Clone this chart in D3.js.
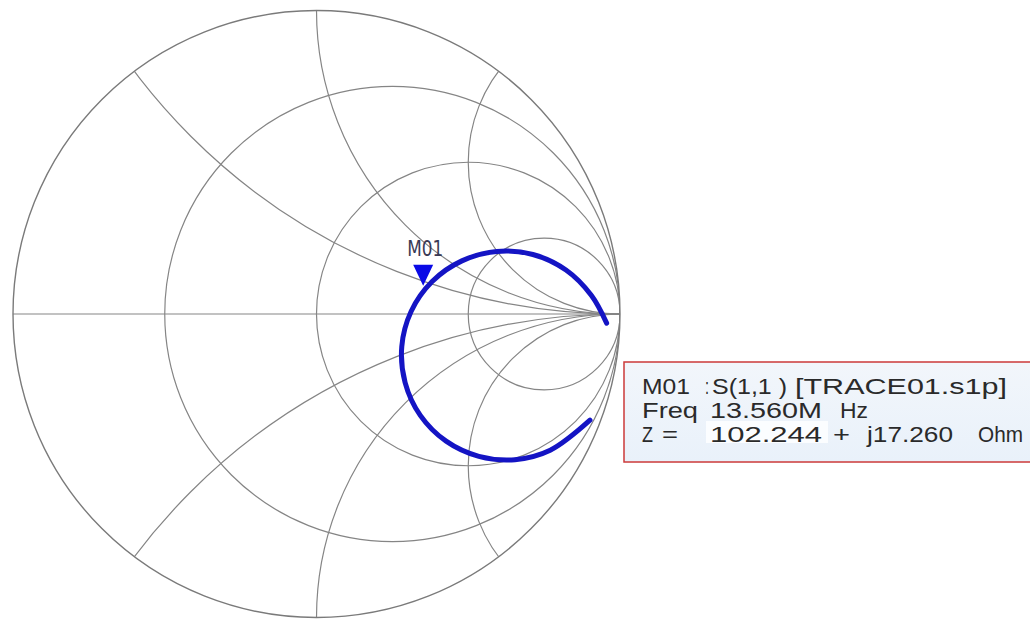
<!DOCTYPE html>
<html><head><meta charset="utf-8">
<script src="https://cdn.jsdelivr.net/npm/d3@7"></script>
<style>html,body{margin:0;padding:0;background:#fff;overflow:hidden}</style>
</head><body>
<svg id="chart" width="1030" height="628"></svg>
<script>
// ---- data ----
const resistanceCircles = [1/3, 1, 3];          // normalized r grid
const reactanceArcs = [0.5, 1, 2];              // normalized |x| grid (both signs)
// trace S(1,1) reflection coefficient
const traceRe = [0.956, 0.906, 0.822, 0.713, 0.594, 0.479, 0.381, 0.312, 0.281, 0.292, 0.342, 0.427, 0.535, 0.654, 0.770, 0.901];
const traceIm = [-0.030, 0.061, 0.145, 0.196, 0.206, 0.175, 0.107, 0.009, -0.107, -0.226, -0.334, -0.419, -0.469, -0.480, -0.449, -0.350];
const markerName = "M01";
const markerZ = [102.244, 17.260];  // ohms
const z0 = 50;
const infoLine1 = [["M01",642,48],[":",705,4],["S(1,1 )",712,75],["[TRACE01.s1p]",795,212]];
const infoLine2 = [["Freq",642,56],["13.560M",710,112],["Hz",840,28]];
const infoLine3 = [["Z",642,11],["=",662,16],["102.244",710,112],["+",833,17],["j17.260",867,86],["Ohm",978,45]];

// ---- layout ----
const cx = 316.5, cy = 314, R = 303.5;
const svg = d3.select("#chart");
const sx = d3.scaleLinear().domain([-1, 1]).range([cx - R, cx + R]);
const sy = d3.scaleLinear().domain([-1, 1]).range([cy + R, cy - R]);
const sr = d3.scaleLinear().domain([0, 1]).range([0, R]);

svg.append("defs").append("clipPath").attr("id", "uc")
  .append("circle").attr("cx", sx(0)).attr("cy", sy(0)).attr("r", sr(1));

const grid = svg.append("g").attr("fill", "none").attr("stroke", "#858585").attr("stroke-width", 1.2);
const clipped = grid.append("g").attr("clip-path", "url(#uc)");

// horizontal axis
grid.append("line").attr("x1", sx(-1)).attr("x2", sx(1)).attr("y1", sy(0)).attr("y2", sy(0));
// resistance circles
clipped.selectAll("circle.r").data(resistanceCircles).join("circle")
  .attr("cx", r => sx(r / (r + 1))).attr("cy", sy(0)).attr("r", r => sr(1 / (r + 1)));
// reactance arcs
const xs = reactanceArcs.flatMap(x => [x, -x]);
clipped.selectAll("circle.x").data(xs).join("circle")
  .attr("cx", sx(1)).attr("cy", x => sy(1 / x)).attr("r", x => sr(1 / Math.abs(x)));
// outer circle
grid.append("circle").attr("cx", sx(0)).attr("cy", sy(0)).attr("r", sr(1)).attr("stroke", "#7a7a7a").attr("stroke-width", 1.4);

// trace
const pts = traceRe.map((re, i) => [re, traceIm[i]]);
svg.append("path").datum(pts)
  .attr("d", d3.line().x(d => sx(d[0])).y(d => sy(d[1])).curve(d3.curveCatmullRom))
  .attr("fill", "none").attr("stroke", "#1414c4").attr("stroke-width", 5).attr("stroke-linecap", "round");

// marker
const zr = markerZ[0] / z0, zi = markerZ[1] / z0;
const den = (zr + 1) * (zr + 1) + zi * zi;
const gRe = ((zr - 1) * (zr + 1) + zi * zi) / den;
const gIm = (zi * (zr + 1) - (zr - 1) * zi) / den;
const mx = sx(gRe), my = sy(gIm) - 6;
svg.append("path").attr("d", `M${mx - 10},${my - 21}L${mx + 10},${my - 21}L${mx},${my}Z`).attr("fill", "#0a0ae6");
svg.append("text").attr("x", mx - 16).attr("y", my - 30).text(markerName)
  .attr("font-family", "DejaVu Sans Condensed, DejaVu Sans, sans-serif").attr("font-size", 22)
  .attr("fill", "#3a3a55").attr("textLength", 36).attr("lengthAdjust", "spacingAndGlyphs");

// info box
const defs = svg.select("defs");
const lg = defs.append("linearGradient").attr("id", "boxg").attr("x1", 0).attr("y1", 0).attr("x2", 0).attr("y2", 1);
lg.append("stop").attr("offset", 0).attr("stop-color", "#f2f6fb");
lg.append("stop").attr("offset", 1).attr("stop-color", "#e9f1fa");
svg.append("rect").attr("x", 624).attr("y", 362).attr("width", 420).attr("height", 100)
  .attr("fill", "url(#boxg)").attr("stroke", "#cc3a3a").attr("stroke-width", 1.5);
svg.append("rect").attr("x", 706).attr("y", 421).attr("width", 122).attr("height", 22).attr("fill", "#fbfdff");
const lines = [[infoLine1, 394], [infoLine2, 418], [infoLine3, 442]];
lines.forEach(([toks, y]) => {
  svg.append("g").selectAll("text").data(toks).join("text")
    .attr("x", d => d[1]).attr("y", y).text(d => d[0])
    .attr("textLength", d => d[2]).attr("lengthAdjust", "spacingAndGlyphs")
    .attr("font-family", "Liberation Sans, Arial, sans-serif").attr("font-size", 22).attr("fill", "#2a2a2a");
});
</script>
</body></html>
